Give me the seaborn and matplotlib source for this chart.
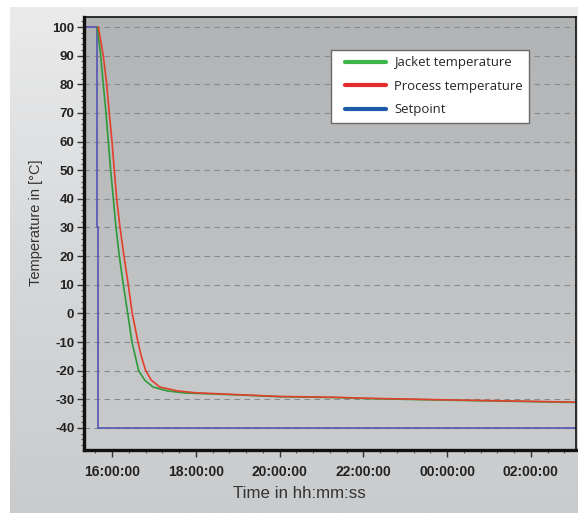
import numpy as np
import pandas as pd
import matplotlib
matplotlib.use("Agg")
import matplotlib.pyplot as plt
import matplotlib.dates as mdates
from matplotlib.colors import LinearSegmentedColormap
from matplotlib.lines import Line2D
from matplotlib.legend_handler import HandlerLine2D
from matplotlib.ticker import MultipleLocator, FixedLocator
import seaborn as sns

# readings, time in minutes relative to 16:00:00
process_min = [-19.6, -12.5, -7.6, -3.9, 0, 3.3, 6.7, 11.5, 17.2, 23.3, 29, 37.2, 42, 48.3,
               56.3, 68.3, 94.5, 119, 164, 240, 322, 360, 480, 600, 665]
process_temp = [100, 90, 80, 70, 60, 50, 40, 30, 20, 10, 0, -10, -15, -20,
                -23.3, -25.7, -27.1, -27.7, -28.2, -29.0, -29.3, -29.6, -30.2, -30.7, -31.0]
jacket_min = [-21, -16.2, -12.5, -8.6, -5.3, -1.9, 1.9, 5.7, 10.5, 16.2, 22.5, 28.6, 33.4, 38.2,
              46.8, 58.7, 80, 105, 164, 240, 322, 360, 480, 600, 665]
jacket_temp = [100, 90, 80, 70, 60, 50, 40, 30, 20, 10, 0, -10, -15, -20,
               -23.3, -25.7, -27.1, -27.8, -28.3, -29.1, -29.4, -29.7, -30.3, -30.8, -31.1]
setpoint_min = [-45, -22, -20, 670]
setpoint_temp = [100, 30, -40, -40]

labels = ["Jacket temperature", "Process temperature", "Setpoint"]
legend_colors = ["#3db54a", "#e42b2f", "#1c5aa8"]

base = pd.Timestamp("2021-03-15 16:00:00")

def to_df(minutes, temps):
    return pd.DataFrame({"time": base + pd.to_timedelta(minutes, unit="min"), "temp": temps})

jacket = to_df(jacket_min, jacket_temp)
process = to_df(process_min, process_temp)
setpoint = to_df(setpoint_min, setpoint_temp)

sns.set_style("white")
plt.rcParams["font.family"] = ["Liberation Sans", "DejaVu Sans"]
plt.rcParams["axes.unicode_minus"] = False

fig = plt.figure(figsize=(5.78, 5.13), dpi=100)
fig.patch.set_facecolor("white")

# outer panel gradient
panel = fig.add_axes([10 / 578, 0, 1 - 10 / 578, 1 - 7 / 513], zorder=0)
panel.imshow(np.linspace(0, 1, 256).reshape(-1, 1), aspect="auto", extent=[0, 1, 0, 1],
             cmap=LinearSegmentedColormap.from_list("p", ["#ebebeb", "#d6d8da", "#c9cbcd"]))
panel.set_axis_off()

pos = [84 / 578, 1 - 450 / 513, (576 - 84) / 578, (450 - 17) / 513]
bg = fig.add_axes(pos, zorder=1)
bg.imshow(np.linspace(0, 1, 256).reshape(-1, 1), aspect="auto", extent=[0, 1, 0, 1],
          cmap=LinearSegmentedColormap.from_list("b", ["#b1b3b5", "#c9cbcd"]))
bg.set_axis_off()

ax = fig.add_axes(pos, zorder=2)
ax.patch.set_alpha(0)

sns.lineplot(data=setpoint, x="time", y="temp", ax=ax, color="#5454b4", lw=1.2,
             estimator=None, sort=False, drawstyle="steps-post")
sns.lineplot(data=jacket, x="time", y="temp", ax=ax, color="#2f9a3a", lw=1.2,
             estimator=None, sort=False)
sns.lineplot(data=process, x="time", y="temp", ax=ax, color="#e2402c", lw=1.2,
             estimator=None, sort=False)

ax.set_xlim(base - pd.Timedelta(minutes=40.1), base + pd.Timedelta(minutes=664.6))
ax.set_ylim(-47.7, 103.5)

ax.yaxis.set_major_locator(MultipleLocator(10))
ax.yaxis.set_minor_locator(MultipleLocator(2))
ax.xaxis.set_major_locator(mdates.HourLocator(byhour=range(0, 24, 2)))
ax.xaxis.set_major_formatter(mdates.DateFormatter("%H:%M:%S"))
minor = pd.date_range(base - pd.Timedelta(minutes=48), base + pd.Timedelta(minutes=672), freq="24min")
ax.xaxis.set_minor_locator(FixedLocator(mdates.date2num(minor)))

ax.yaxis.grid(True, which="major", linestyle=(0, (5, 4)), color="#8a8a8a", lw=0.8)
ax.xaxis.grid(False)
ax.set_axisbelow(True)

for side, w in [("left", 2.4), ("bottom", 2.4), ("top", 1.2), ("right", 1.2)]:
    ax.spines[side].set_visible(True)
    ax.spines[side].set_color("#111111")
    ax.spines[side].set_linewidth(w)

ax.tick_params(axis="both", which="major", direction="out", length=5, width=1,
               color="#333333", labelcolor="#222222", bottom=True, left=True)
ax.tick_params(axis="both", which="minor", direction="out", length=2.5, width=0.8,
               color="#555555", bottom=True, left=True)
ax.tick_params(axis="y", labelsize=9.5, pad=2)
ax.tick_params(axis="x", labelsize=10, pad=6)
for lbl in ax.get_xticklabels() + ax.get_yticklabels():
    lbl.set_fontweight("bold")

ax.set_xlabel("Time in hh:mm:ss", fontsize=12.2, color="#333333")
ax.set_ylabel("Temperature in [°C]", fontsize=10.5, color="#333333")
ax.xaxis.set_label_coords(0.437, -0.083)
ax.yaxis.set_label_coords(-0.083, 0.524)


class ShiftedLine(HandlerLine2D):
    # legend swatch starts a little further in from the frame
    def create_artists(self, legend, orig_handle, xdescent, ydescent, width, height, fontsize, trans):
        artists = super().create_artists(legend, orig_handle, xdescent, ydescent,
                                         width, height, fontsize, trans)
        for a in artists:
            xd = np.asarray(a.get_xdata(), dtype=float)
            if len(xd) >= 2:
                a.set_xdata(np.linspace(xd[0] + 5.4, xd[-1], len(xd)))
        return artists


handles = [Line2D([], [], color=c, lw=3) for c in legend_colors]
ax.legend(handles=handles, labels=labels, loc="upper left", bbox_to_anchor=(0.502, 0.924),
          frameon=True, fancybox=False, edgecolor="#6a6a6a", framealpha=1,
          prop={"family": "Open Sans", "size": 9.45}, handlelength=3.7, handletextpad=0.6,
          labelspacing=0.8, borderpad=0.5, borderaxespad=0,
          handler_map={Line2D: ShiftedLine()})

fig.savefig("out.png", dpi=100)
